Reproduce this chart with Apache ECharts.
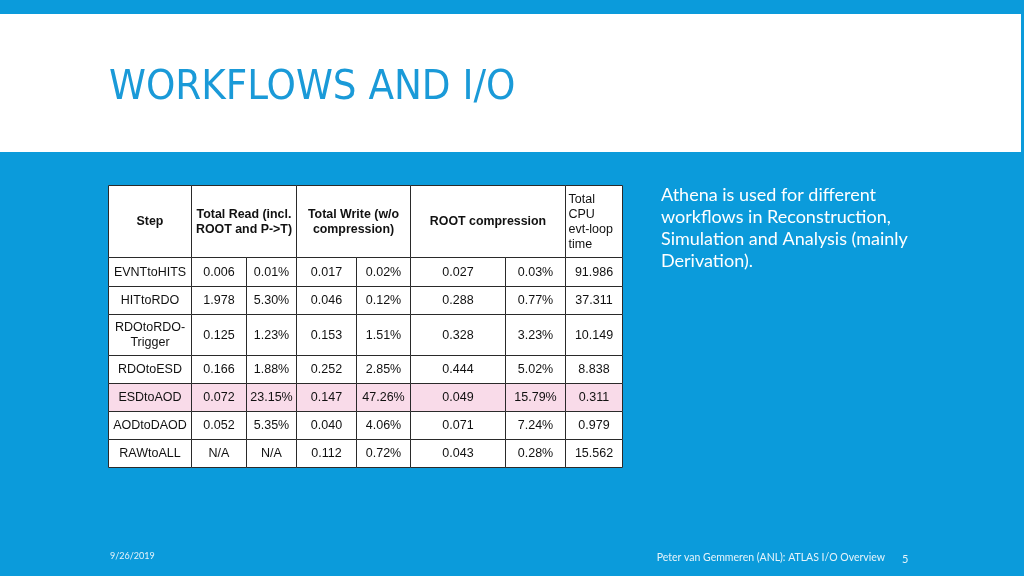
<!DOCTYPE html>
<html>
<head>
<meta charset="utf-8">
<script src="https://cdn.jsdelivr.net/npm/echarts@6/dist/echarts.min.js"></script>
<style>html,body{margin:0;padding:0;background:#0b9bdb;}#c{width:1024px;height:576px;}</style>
</head>
<body>
<div id="c"></div>
<script>
// ---- data ----
var steps = ['EVNTtoHITS', 'HITtoRDO', 'RDOtoRDO-\nTrigger', 'RDOtoESD', 'ESDtoAOD', 'AODtoDAOD', 'RAWtoALL'];
var readVal = ['0.006', '1.978', '0.125', '0.166', '0.072', '0.052', 'N/A'];
var readPct = ['0.01%', '5.30%', '1.23%', '1.88%', '23.15%', '5.35%', 'N/A'];
var writeVal = ['0.017', '0.046', '0.153', '0.252', '0.147', '0.040', '0.112'];
var writePct = ['0.02%', '0.12%', '1.51%', '2.85%', '47.26%', '4.06%', '0.72%'];
var compVal = ['0.027', '0.288', '0.328', '0.444', '0.049', '0.071', '0.043'];
var compPct = ['0.03%', '0.77%', '3.23%', '5.02%', '15.79%', '7.24%', '0.28%'];
var cpuTime = ['91.986', '37.311', '10.149', '8.838', '0.311', '0.979', '15.562'];
var headers = ['Step', 'Total Read (incl.\nROOT and P->T)', 'Total Write (w/o\ncompression)', 'ROOT compression', 'Total\nCPU\nevt-loop\ntime'];
var headerSpans = [[0, 0], [1, 2], [3, 4], [5, 6], [7, 7]];
var highlightStep = 'ESDtoAOD';

// ---- layout (table geometry in axis units) ----
var colEdges = [0, 82.5, 138, 188, 248, 302, 397, 456.5, 514];
var rowEdges = [0, 72, 101, 129, 170, 198, 226, 254, 282];

// ---- build cells ----
var cells = [];
headers.forEach(function (h, i) {
  cells.push({ value: [headerSpans[i][0], headerSpans[i][1], 0], text: h, bold: i < 4, left: i === 4, pink: false });
});
var cols = [steps, readVal, readPct, writeVal, writePct, compVal, compPct, cpuTime];
steps.forEach(function (s, r) {
  var pink = s === highlightStep;
  cols.forEach(function (arr, c) {
    cells.push({ value: [c, c, r + 1], text: arr[r], bold: false, left: false, pink: pink });
  });
});

var chart = echarts.init(document.getElementById('c'), null, { renderer: 'canvas' });
var FONT = '"Liberation Sans", Arial, Helvetica, sans-serif';

chart.setOption({
  backgroundColor: '#0b9bdb',
  animation: false,
  title: [
    { text: 'WORKFLOWS AND I/O', left: 104, top: 62,
      textStyle: { color: '#1a9ad8', fontSize: 41.5, fontWeight: 'normal', fontFamily: '"Liberation Sans Narrow", "DejaVu Sans Condensed", Lato, sans-serif' } },
    { text: 'Athena is used for different\nworkflows in Reconstruction,\nSimulation and Analysis (mainly\nDerivation).', left: 656, top: 179,
      textStyle: { color: '#ffffff', fontSize: 18, fontWeight: 'normal', lineHeight: 22, fontFamily: 'Lato, "Open Sans", sans-serif' } },
    { text: '9/26/2019', left: 105, top: 547,
      textStyle: { color: '#e6f4fb', fontSize: 9, fontWeight: 'normal', fontFamily: 'Lato, sans-serif' } },
    { text: 'Peter van Gemmeren (ANL): ATLAS I/O Overview', right: 134, top: 547,
      textStyle: { color: '#e6f4fb', fontSize: 10.5, fontWeight: 'normal', fontFamily: 'Lato, sans-serif' } },
    { text: '5', left: 897, top: 549,
      textStyle: { color: '#e6f4fb', fontSize: 11, fontWeight: 'normal', fontFamily: 'Lato, sans-serif' } }
  ],
  graphic: [
    { type: 'rect', shape: { x: 0, y: 14, width: 1021, height: 138 }, style: { fill: '#ffffff' }, z: -10 }
  ],
  grid: { left: 108, top: 185, width: 514, height: 282 },
  xAxis: { type: 'value', min: 0, max: 514, show: false },
  yAxis: { type: 'value', min: 0, max: 282, inverse: true, show: false },
  series: [{
    type: 'custom',
    coordinateSystem: 'cartesian2d',
    encode: { x: [0, 1], y: 2 },
    data: cells,
    clip: false,
    renderItem: function (params, api) {
      var c0 = api.value(0), c1 = api.value(1), r = api.value(2);
      var cell = cells[params.dataIndex];
      var p0 = api.coord([colEdges[c0], rowEdges[r]]);
      var p1 = api.coord([colEdges[c1 + 1], rowEdges[r + 1]]);
      var x0 = Math.round(p0[0]) + 0.5, y0 = Math.round(p0[1]) + 0.5;
      var x1 = Math.round(p1[0]) + 0.5, y1 = Math.round(p1[1]) + 0.5;
      var cx = (x0 + x1) / 2, cy = (y0 + y1) / 2;
      return {
        type: 'group',
        children: [
          { type: 'rect', shape: { x: x0, y: y0, width: x1 - x0, height: y1 - y0 },
            style: { fill: cell.pink ? '#f9dbe9' : '#ffffff', stroke: '#2a2a2a', lineWidth: 1 } },
          { type: 'text',
            style: { text: cell.text, x: cell.left ? x0 + 3 : cx, y: cy + 0.5,
              align: cell.left ? 'left' : 'center', verticalAlign: 'middle',
              fill: '#111111', fontSize: cell.bold ? 12.4 : 12.5, fontWeight: cell.bold ? 'bold' : 'normal',
              fontFamily: FONT, lineHeight: cell.bold || cell.left ? 15.3 : 15 } }
        ]
      };
    }
  }]
});
</script>
</body>
</html>
